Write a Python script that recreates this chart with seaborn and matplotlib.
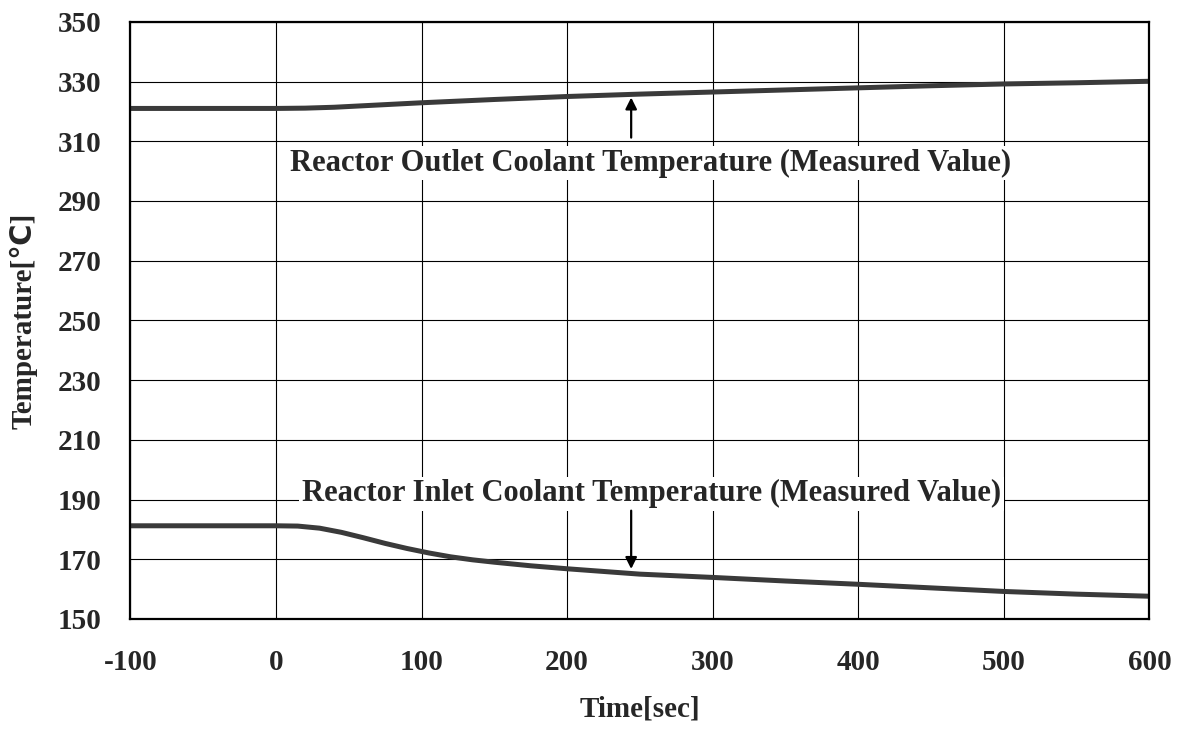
import matplotlib
matplotlib.use("Agg")
import matplotlib.pyplot as plt
import seaborn as sns
import pandas as pd

# data
outlet_time = [-100, -50, 0, 20, 40, 60, 80, 100, 150, 200, 250, 300, 350, 400, 450, 500, 550, 600]
outlet_temp = [321.0, 321.0, 321.0, 321.1, 321.4, 321.9, 322.4, 322.9, 324.0, 325.0, 325.8,
               326.5, 327.2, 327.9, 328.6, 329.2, 329.6, 330.1]

inlet_time = [-100, -50, 0, 15, 30, 45, 60, 75, 90, 105, 120, 135, 150, 175, 200, 250, 300,
              350, 400, 450, 500, 550, 600]
inlet_temp = [181.2, 181.2, 181.2, 181.1, 180.4, 179.0, 177.2, 175.3, 173.6, 172.1, 170.8,
              169.8, 169.0, 167.8, 166.8, 165.0, 163.9, 162.7, 161.6, 160.4, 159.2, 158.3, 157.6]

outlet_label = "Reactor Outlet Coolant Temperature (Measured Value)"
inlet_label = "Reactor Inlet Coolant Temperature (Measured Value)"

x_ticks = [-100, 0, 100, 200, 300, 400, 500, 600]
y_ticks = [150, 170, 190, 210, 230, 250, 270, 290, 310, 330, 350]

df_out = pd.DataFrame({"Time": outlet_time, "Temp": outlet_temp})
df_in = pd.DataFrame({"Time": inlet_time, "Temp": inlet_temp})

sns.set_style("white")
plt.rcParams["font.family"] = ["Liberation Serif", "DejaVu Sans"]
plt.rcParams["font.weight"] = "bold"
plt.rcParams["axes.unicode_minus"] = False

fig = plt.figure(figsize=(11.85, 7.29), dpi=100)
ax = fig.add_axes([0.110, 0.151, 0.860, 0.819])

sns.lineplot(data=df_out, x="Time", y="Temp", ax=ax, color="#3a3a3a", lw=3.6)
sns.lineplot(data=df_in, x="Time", y="Temp", ax=ax, color="#3a3a3a", lw=3.6)

ax.set_xlim(-100, 600)
ax.set_ylim(150, 350)
ax.set_xticks(x_ticks)
ax.set_yticks(y_ticks)
ax.grid(True, color="black", lw=0.8)
ax.set_axisbelow(True)
for s in ax.spines.values():
    s.set_color("black")
    s.set_linewidth(1.6)

ax.tick_params(axis="both", length=0, labelsize=21)
ax.tick_params(axis="y", pad=21)
ax.tick_params(axis="x", pad=22)
for lab in ax.get_xticklabels() + ax.get_yticklabels():
    lab.set_fontweight("bold")

ax.set_xlabel("Time[sec]", fontsize=21, fontweight="bold", labelpad=14)
ax.set_ylabel("Temperature[℃]", fontsize=21, fontweight="bold", labelpad=14)

# annotation labels with white backing
box = dict(facecolor="white", edgecolor="none", pad=2)
ax.text(257, 302.7, outlet_label, ha="center", va="center", fontsize=22,
        fontweight="bold", bbox=box, zorder=5)
ax.text(258, 191.9, inlet_label, ha="center", va="center", fontsize=22,
        fontweight="bold", bbox=box, zorder=5)

arrow = dict(arrowstyle="-|>", color="black", lw=1.6, mutation_scale=17)
ax.annotate("", xy=(244, 325.6), xytext=(244, 310.3), arrowprops=arrow, zorder=6)
ax.annotate("", xy=(244, 165.8), xytext=(244, 187.2), arrowprops=arrow, zorder=6)

fig.savefig("out.png", dpi=100)
